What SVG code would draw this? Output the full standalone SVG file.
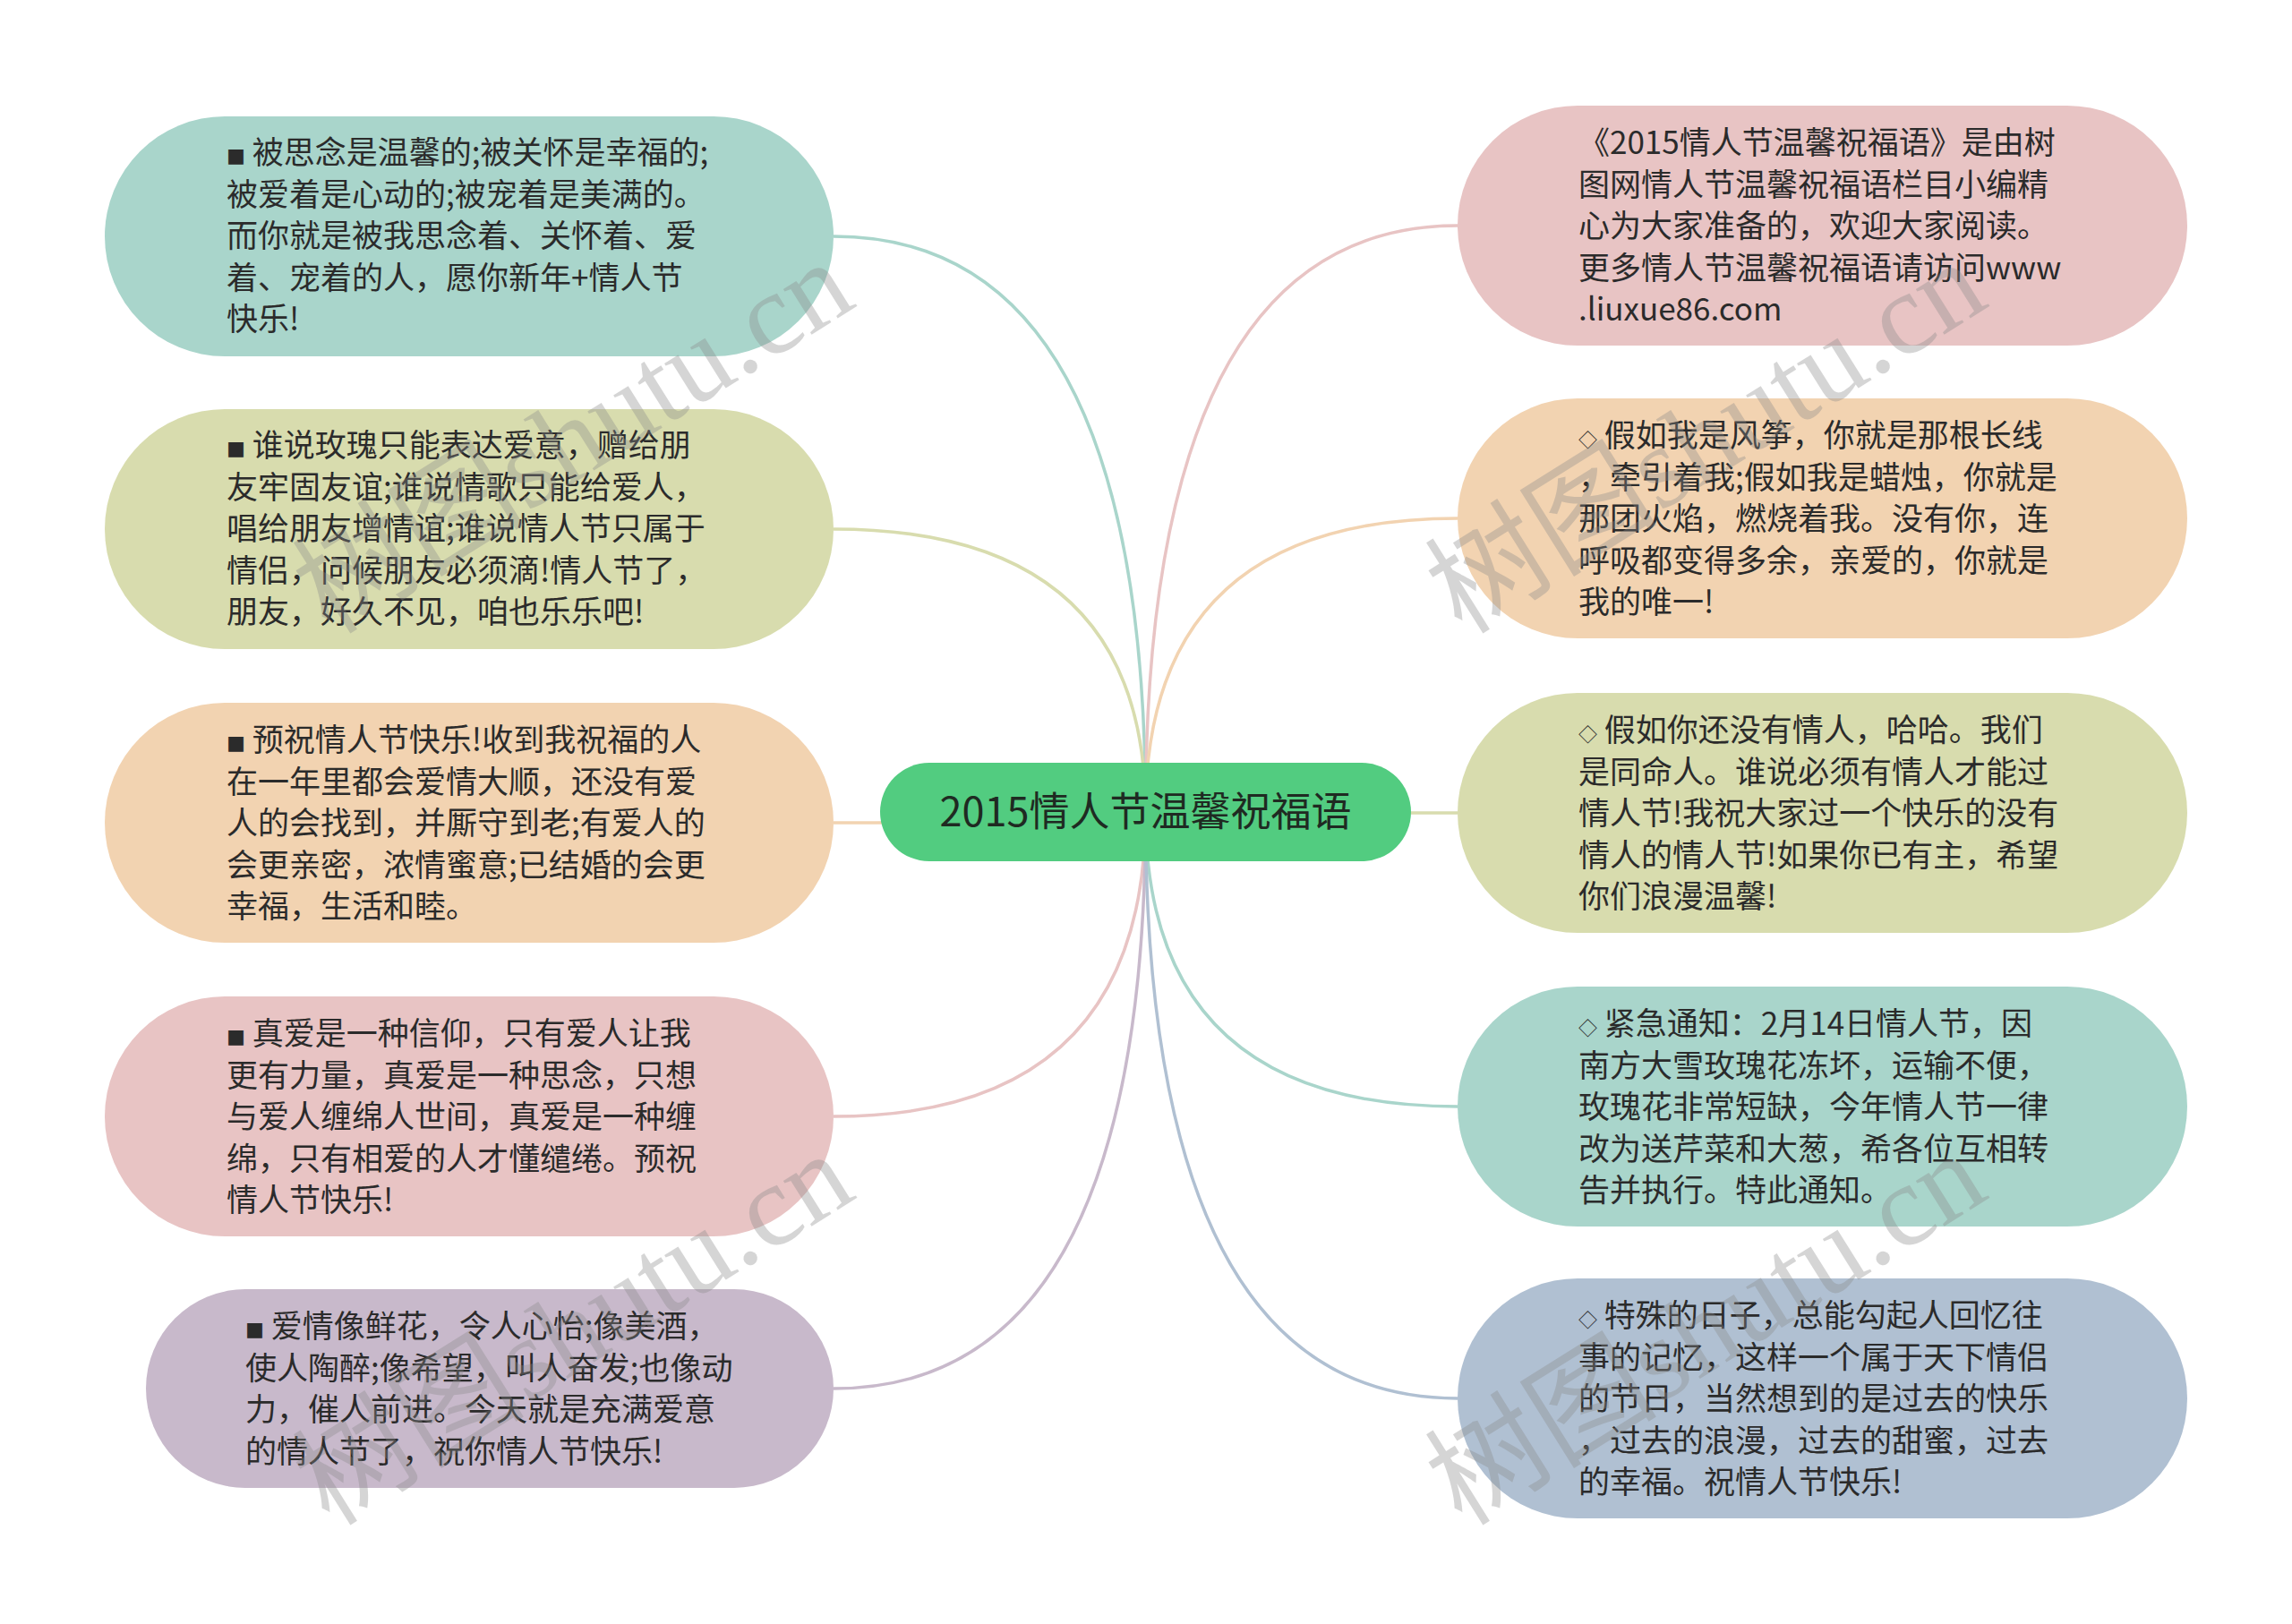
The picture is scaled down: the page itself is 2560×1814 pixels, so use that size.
<svg xmlns="http://www.w3.org/2000/svg" width="2560" height="1814" viewBox="0 0 2560 1814">
<style>
.t{font-family:"Noto Sans CJK SC","Noto Sans",sans-serif;font-size:35px;fill:#2b2b2b}
.s{font-size:21px}
.c{font-family:"Noto Sans CJK SC","Noto Sans",sans-serif;font-size:45px;fill:#1f2a22}
.ln{fill:none;stroke-width:3.5}
.wm{font-family:"Liberation Serif","Noto Sans CJK SC",serif;font-size:130px;fill:#8a8a8a;opacity:0.35}
</style>
<rect width="2560" height="1814" fill="#ffffff"/>
<g id="connectors">
<path class="ln" stroke="#a9d5cb" d="M1279.5 907 Q1279.5 264 931 264"/>
<path class="ln" stroke="#d8dcae" d="M1279.5 907 Q1279.5 591 931 591"/>
<path class="ln" stroke="#f2d3b1" d="M1279.5 907 Q1279.5 919 931 919"/>
<path class="ln" stroke="#e8c4c4" d="M1279.5 907 Q1279.5 1247 931 1247"/>
<path class="ln" stroke="#c8b9cb" d="M1279.5 907 Q1279.5 1551 931 1551"/>
<path class="ln" stroke="#e8c4c4" d="M1279.5 907 Q1279.5 252 1628 252"/>
<path class="ln" stroke="#f2d3b1" d="M1279.5 907 Q1279.5 579 1628 579"/>
<path class="ln" stroke="#d8dcae" d="M1279.5 907 Q1279.5 908 1628 908"/>
<path class="ln" stroke="#a9d5cb" d="M1279.5 907 Q1279.5 1236 1628 1236"/>
<path class="ln" stroke="#b0c0d2" d="M1279.5 907 Q1279.5 1562 1628 1562"/>
</g>
<g id="root">
<rect x="983" y="852" width="593" height="110" rx="55" fill="#52cc80"/>
<text class="c" x="1279.5" y="923" text-anchor="middle">2015情人节温馨祝福语</text>
</g>
<g id="left1">
<rect x="117" y="130" width="814" height="268" rx="134" fill="#a9d5cb"/>
<text class="t"><tspan x="253" y="183"><tspan class="s">■</tspan> 被思念是温馨的;被关怀是幸福的;</tspan><tspan x="253" y="229.5">被爱着是心动的;被宠着是美满的。</tspan><tspan x="253" y="276">而你就是被我思念着、关怀着、爱</tspan><tspan x="253" y="322.5">着、宠着的人，愿你新年+情人节</tspan><tspan x="253" y="369">快乐!</tspan></text>
</g>
<g id="left2">
<rect x="117" y="457" width="814" height="268" rx="134" fill="#d8dcae"/>
<text class="t"><tspan x="253" y="510"><tspan class="s">■</tspan> 谁说玫瑰只能表达爱意，赠给朋</tspan><tspan x="253" y="556.5">友牢固友谊;谁说情歌只能给爱人，</tspan><tspan x="253" y="603">唱给朋友增情谊;谁说情人节只属于</tspan><tspan x="253" y="649.5">情侣，问候朋友必须滴!情人节了，</tspan><tspan x="253" y="696">朋友，好久不见，咱也乐乐吧!</tspan></text>
</g>
<g id="left3">
<rect x="117" y="785" width="814" height="268" rx="134" fill="#f2d3b1"/>
<text class="t"><tspan x="253" y="839"><tspan class="s">■</tspan> 预祝情人节快乐!收到我祝福的人</tspan><tspan x="253" y="885.5">在一年里都会爱情大顺，还没有爱</tspan><tspan x="253" y="932">人的会找到，并厮守到老;有爱人的</tspan><tspan x="253" y="978.5">会更亲密，浓情蜜意;已结婚的会更</tspan><tspan x="253" y="1025">幸福，生活和睦。</tspan></text>
</g>
<g id="left4">
<rect x="117" y="1113" width="814" height="268" rx="134" fill="#e8c4c4"/>
<text class="t"><tspan x="253" y="1167"><tspan class="s">■</tspan> 真爱是一种信仰，只有爱人让我</tspan><tspan x="253" y="1213.5">更有力量，真爱是一种思念，只想</tspan><tspan x="253" y="1260">与爱人缠绵人世间，真爱是一种缠</tspan><tspan x="253" y="1306.5">绵，只有相爱的人才懂缱绻。预祝</tspan><tspan x="253" y="1353">情人节快乐!</tspan></text>
</g>
<g id="left5">
<rect x="163" y="1440" width="768" height="222" rx="111" fill="#c8b9cb"/>
<text class="t"><tspan x="274" y="1494.25"><tspan class="s">■</tspan> 爱情像鲜花，令人心怡;像美酒，</tspan><tspan x="274" y="1540.75">使人陶醉;像希望，叫人奋发;也像动</tspan><tspan x="274" y="1587.25">力，催人前进。今天就是充满爱意</tspan><tspan x="274" y="1633.75">的情人节了，祝你情人节快乐!</tspan></text>
</g>
<g id="right1">
<rect x="1628" y="118" width="815" height="268" rx="134" fill="#e8c4c4"/>
<text class="t"><tspan x="1763" y="172">《2015情人节温馨祝福语》是由树</tspan><tspan x="1763" y="218.5">图网情人节温馨祝福语栏目小编精</tspan><tspan x="1763" y="265">心为大家准备的，欢迎大家阅读。</tspan><tspan x="1763" y="311.5">更多情人节温馨祝福语请访问www</tspan><tspan x="1763" y="358">.liuxue86.com</tspan></text>
</g>
<g id="right2">
<rect x="1628" y="445" width="815" height="268" rx="134" fill="#f2d3b1"/>
<text class="t"><tspan x="1763" y="499"><tspan class="s">◇</tspan> 假如我是风筝，你就是那根长线</tspan><tspan x="1763" y="545.5">，牵引着我;假如我是蜡烛，你就是</tspan><tspan x="1763" y="592">那团火焰，燃烧着我。没有你，连</tspan><tspan x="1763" y="638.5">呼吸都变得多余，亲爱的，你就是</tspan><tspan x="1763" y="685">我的唯一!</tspan></text>
</g>
<g id="right3">
<rect x="1628" y="774" width="815" height="268" rx="134" fill="#d8dcae"/>
<text class="t"><tspan x="1763" y="828"><tspan class="s">◇</tspan> 假如你还没有情人，哈哈。我们</tspan><tspan x="1763" y="874.5">是同命人。谁说必须有情人才能过</tspan><tspan x="1763" y="921">情人节!我祝大家过一个快乐的没有</tspan><tspan x="1763" y="967.5">情人的情人节!如果你已有主，希望</tspan><tspan x="1763" y="1014">你们浪漫温馨!</tspan></text>
</g>
<g id="right4">
<rect x="1628" y="1102" width="815" height="268" rx="134" fill="#a9d5cb"/>
<text class="t"><tspan x="1763" y="1156"><tspan class="s">◇</tspan> 紧急通知：2月14日情人节，因</tspan><tspan x="1763" y="1202.5">南方大雪玫瑰花冻坏，运输不便，</tspan><tspan x="1763" y="1249">玫瑰花非常短缺，今年情人节一律</tspan><tspan x="1763" y="1295.5">改为送芹菜和大葱，希各位互相转</tspan><tspan x="1763" y="1342">告并执行。特此通知。</tspan></text>
</g>
<g id="right5">
<rect x="1628" y="1428" width="815" height="268" rx="134" fill="#b0c0d2"/>
<text class="t"><tspan x="1763" y="1482"><tspan class="s">◇</tspan> 特殊的日子，总能勾起人回忆往</tspan><tspan x="1763" y="1528.5">事的记忆，这样一个属于天下情侣</tspan><tspan x="1763" y="1575">的节日，当然想到的是过去的快乐</tspan><tspan x="1763" y="1621.5">，过去的浪漫，过去的甜蜜，过去</tspan><tspan x="1763" y="1668">的幸福。祝情人节快乐!</tspan></text>
</g>
<g id="watermarks">
<text class="wm" transform="translate(368 710) rotate(-32)">树图shutu.cn</text>
<text class="wm" transform="translate(1633 710) rotate(-32)">树图shutu.cn</text>
<text class="wm" transform="translate(368 1706) rotate(-32)">树图shutu.cn</text>
<text class="wm" transform="translate(1633 1706) rotate(-32)">树图shutu.cn</text>
</g>
</svg>
